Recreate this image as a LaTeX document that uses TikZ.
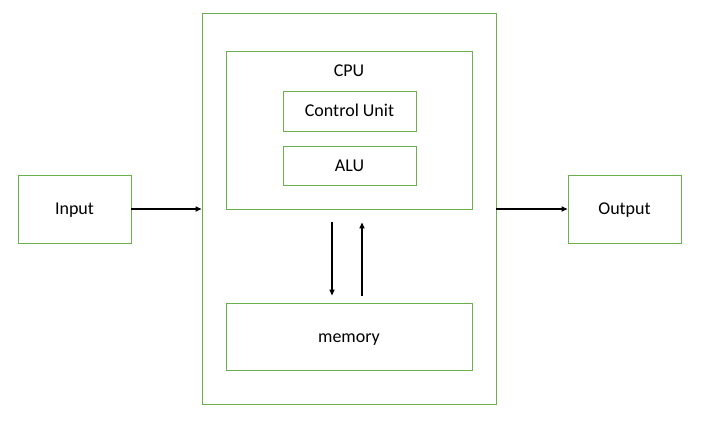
\documentclass[tikz,border=0pt]{standalone}
\usepackage{fontspec}
\setmainfont{Carlito}
\usetikzlibrary{positioning,arrows.meta,calc}
\definecolor{boxgreen}{RGB}{106,176,76}

\begin{document}
\begin{tikzpicture}[x=1pt, y=-1pt,
        lbl/.style={font=\fontsize{18}{21}\selectfont, text height=11.6pt, text depth=0pt},
        gbox/.style={lbl, draw=boxgreen, line width=0.9pt, inner sep=0pt, align=center},
        arr/.style={-{Triangle[length=6pt,width=5pt]}, line width=1.6pt}
    ]
    \useasboundingbox (0,0) rectangle (704,433);
    \node[gbox, minimum width=113pt, minimum height=68pt] (in) at (74.5,209) {Input};
    \node[gbox, minimum width=113pt, minimum height=68pt] (out) at (624.5,209) {Output};
    \node[gbox, minimum width=294pt, minimum height=391pt] (comp) at (349,208.5) {};
    \node[gbox, minimum width=246pt, minimum height=158pt] (cpu) at (349,130) {};
    \node[lbl] (cpulbl) at (349,71) {CPU};
    \node[gbox, minimum width=133pt, minimum height=40pt] (cu) at (349.5,111) {Control Unit};
    \node[gbox, minimum width=133pt, minimum height=39pt] (alu) at (349.5,165.5) {ALU};
    \node[gbox, minimum width=246pt, minimum height=67pt] (mem) at (349,336.5) {memory};
    \draw[arr] (in) -- (comp.west |- in);
    \draw[arr] (comp.east |- out) -- (out);
    \draw[arr] ([xshift=-17pt,yshift=-13pt]cpu.south) -- ([xshift=-17pt,yshift=7pt]mem.north);
    \draw[arr] ([xshift=13pt,yshift=7pt]mem.north) -- ([xshift=13pt,yshift=-13pt]cpu.south);
\end{tikzpicture}
\end{document}
